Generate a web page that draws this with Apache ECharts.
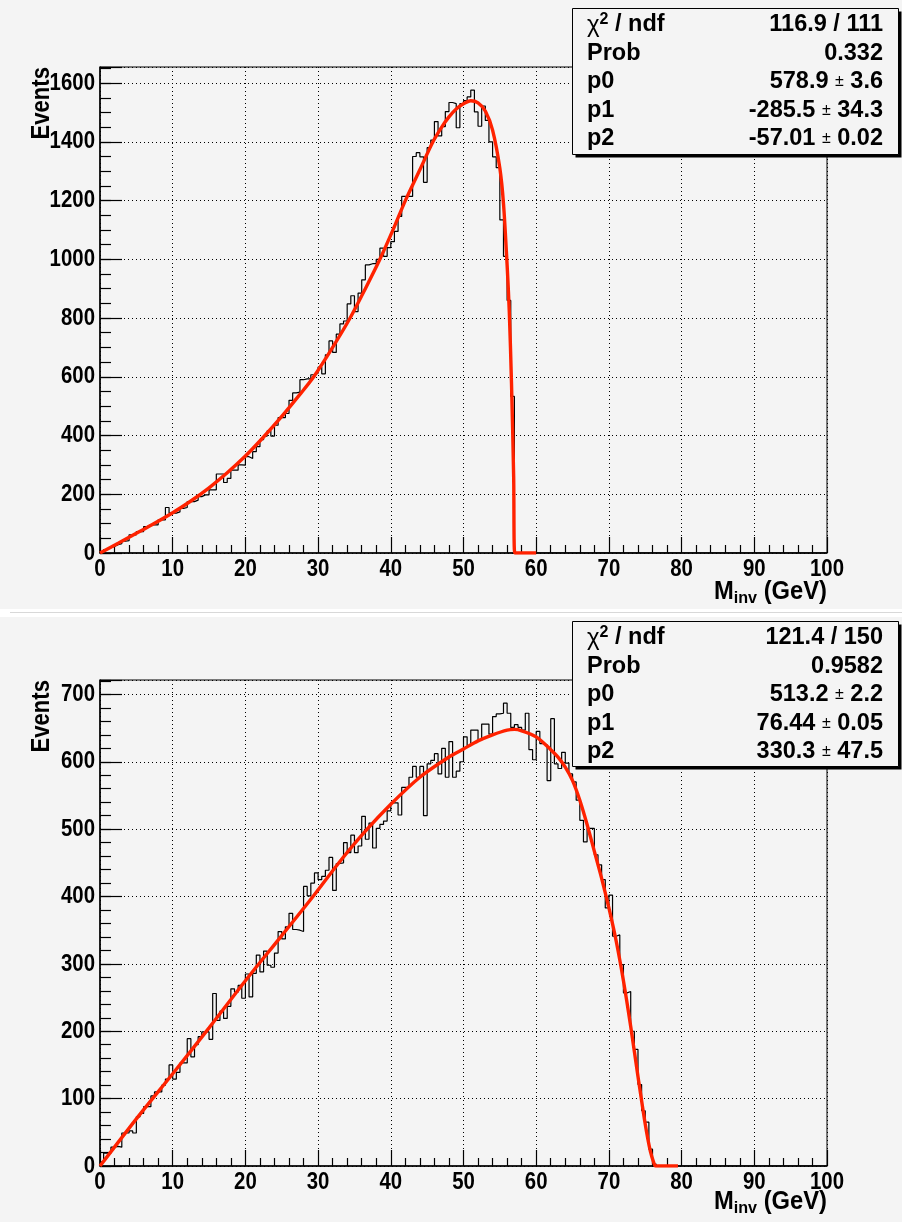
<!DOCTYPE html>
<html>
<head>
<meta charset="utf-8">
<script src="https://cdn.jsdelivr.net/npm/echarts@6/dist/echarts.min.js"></script>
<style>
  html, body { margin: 0; padding: 0; background: #f4f4f4; }
  #chart { width: 902px; height: 1222px; }
</style>
</head>
<body>
<div id="chart"></div>
<script>
// Histogram bin width (GeV); bins start at 0
const BIN = 0.5;

// Upper plot: events per 0.5 GeV bin, 0 .. 57 GeV (all later bins empty)
const topCounts = [
  4, 12, 18, 22, 28, 32, 40, 42, 62, 62,
  73, 73, 90, 96, 96, 96, 113, 113, 155, 136,
  136, 140, 152, 155, 175, 175, 180, 192, 198, 198,
  215, 215, 269, 269, 240, 254, 282, 282, 300, 299,
  328, 322, 345, 362, 386, 398, 416, 398, 435, 461,
  461, 475, 520, 545, 548, 590, 593, 593, 607, 612,
  633, 610, 675, 722, 683, 745, 780, 790, 848, 876,
  822, 885, 930, 981, 985, 985, 1000, 1038, 1010, 1040,
  1060, 1095, 1146, 1214, 1214, 1214, 1350, 1363, 1349, 1262,
  1380, 1406, 1469, 1420, 1452, 1503, 1534, 1530, 1448, 1530,
  1540, 1553, 1576, 1502, 1453, 1522, 1473, 1400, 1349, 1312,
  1134, 1010, 860, 533
];

// Lower plot: events per 0.5 GeV bin, 0 .. 76.5 GeV (all later bins empty)
const bottomCounts = [
  6, 19, 19, 28, 29, 28, 49, 49, 52, 49,
  73, 78, 88, 88, 104, 110, 110, 120, 129, 150,
  129, 139, 153, 153, 189, 162, 180, 192, 199, 199,
  188, 256, 216, 230, 219, 237, 263, 258, 268, 249,
  285, 251, 286, 313, 288, 319, 298, 295, 316, 348,
  337, 355, 375, 351, 350, 348, 415, 401, 420, 435,
  425, 430, 439, 458, 409, 449, 450, 480, 465, 491,
  465, 475, 519, 485, 509, 472, 501, 507, 512, 527,
  539, 539, 521, 562, 562, 577, 593, 577, 593, 520,
  597, 602, 612, 582, 620, 577, 630, 577, 586, 600,
  637, 624, 647, 647, 632, 656, 656, 641, 667, 671,
  672, 687, 672, 651, 655, 651, 647, 672, 618, 603,
  645, 627, 625, 572, 664, 597, 590, 614, 598, 582,
  570, 543, 513, 481, 501, 501, 462, 447, 425, 383,
  402, 341, 343, 299, 257, 259, 200, 173, 121, 82,
  65, 25, 3
];

// Fitted curves, sampled (GeV, events)
const topFitX = [0, 2.5, 5, 7.5, 10, 12.5, 15, 17.5, 20, 22.5, 25, 27.5, 29.4, 32, 34.4, 36.5, 38.5,
  40.3, 42, 44, 45.8, 47, 48, 49, 50, 51, 52, 53, 54, 55, 55.5, 56, 56.3, 56.6, 56.9, 57.05, 60];
const topFitY = [0, 33, 67, 101, 137, 177, 222, 273, 330, 395, 465, 540, 600, 700, 800, 900, 1000,
  1100, 1200, 1305, 1400, 1450, 1485, 1512, 1530, 1540, 1533, 1505, 1440, 1310, 1190, 980, 820, 580, 260, 0, 0];

const bottomFitX = [0, 5, 10, 15, 20, 25, 29.3, 33, 36.5, 40, 44, 48, 50, 52, 54, 56, 57, 58, 60, 62, 63,
  64, 65, 66, 67, 68, 69, 70, 71, 72, 73, 74, 75, 75.7, 76.2, 76.44, 79.5];
const bottomFitY = [0, 70, 137, 205, 275, 342, 400, 452, 497, 537, 577, 607, 619, 631, 640, 647, 648, 646, 637, 618, 607,
  592, 572, 543, 507, 467, 427, 383, 334, 275, 207, 133, 62, 22, 4, 0, 0];

// Tick labels
const xTickLabels = ['0', '10', '20', '30', '40', '50', '60', '70', '80', '90', '100'];
const topYTickLabels = ['0', '200', '400', '600', '800', '1000', '1200', '1400', '1600'];
const bottomYTickLabels = ['0', '100', '200', '300', '400', '500', '600', '700'];

// Fit statistics boxes
const statLabels = ['χ2 / ndf', 'Prob', 'p0', 'p1', 'p2'];
const topStatValues = ['116.9 / 111', '0.332', '578.9 ± 3.6', '-285.5 ± 34.3', '-57.01 ± 0.02'];
const bottomStatValues = ['121.4 / 150', '0.9582', '513.2 ± 2.2', '76.44 ± 0.05', '330.3 ± 47.5'];

const yTitle = 'Events';
const xTitleMain = 'M';
const xTitleSub = 'inv';
const xTitleUnit = ' (GeV)';

// ---------------------------------------------------------------------------
const FONT = "'Liberation Sans',Arial,Helvetica,sans-serif";
const RED = '#ff2200';
const BG = '#f4f4f4';
const LABEL_SCALE = 0.85;   // narrow bold look of the axis lettering

const panels = [
  { top: 67, height: 486, counts: topCounts, fx: topFitX, fy: topFitY, major: 200, minor: 50,
    yLabels: topYTickLabels, stats: topStatValues, boxTop: 8, boxH: 146, titleTop: 67, xTitleY: 592 },
  { top: 680, height: 486, counts: bottomCounts, fx: bottomFitX, fy: bottomFitY, major: 100, minor: 20,
    yLabels: bottomYTickLabels, stats: bottomStatValues, boxTop: 621, boxH: 145, titleTop: 680, xTitleY: 1202 }
];
const GRID_LEFT = 100, GRID_W = 727;

function histPoints(counts) {
  const pts = counts.map((v, i) => [i * BIN, v]);
  pts.push([counts.length * BIN, 0]);
  pts.push([100, 0]);
  return pts;
}

const grid = [], xAxis = [], yAxis = [], series = [];

panels.forEach((p, k) => {
  const yMax = 1.05 * Math.max(...p.counts);
  grid.push({ left: GRID_LEFT, top: p.top, width: GRID_W, height: p.height, show: true,
    borderColor: '#000', borderWidth: 1, backgroundColor: 'transparent' });

  xAxis.push({
    gridIndex: k, type: 'value', min: 0, max: 100, interval: 10,
    axisLine: { show: true, onZero: false, lineStyle: { color: '#000', width: 1.5 } },
    axisTick: { show: true, inside: true, length: 16, lineStyle: { color: '#000', width: 1.2 } },
    minorTick: { show: true, splitNumber: 5, length: 8, lineStyle: { color: '#000', width: 1.2 } },
    splitLine: { show: true, lineStyle: { color: '#000', width: 1, type: [1, 3] } },
    axisLabel: { show: false }
  });

  // major ticks and grid lines
  yAxis.push({
    gridIndex: k, type: 'value', min: 0, max: yMax, interval: p.major, position: 'left',
    axisLine: { show: true, onZero: false, lineStyle: { color: '#000', width: 1.5 } },
    axisTick: { show: true, inside: true, length: 22, lineStyle: { color: '#000', width: 1.2 } },
    splitLine: { show: true, lineStyle: { color: '#000', width: 1, type: [1, 3] } },
    axisLabel: { show: false }
  });
  // minor ticks
  yAxis.push({
    gridIndex: k, type: 'value', min: 0, max: yMax, interval: p.minor, position: 'left',
    axisLine: { show: false }, axisLabel: { show: false }, splitLine: { show: false },
    axisTick: { show: true, inside: true, length: 11, lineStyle: { color: '#000', width: 1.2 } }
  });

  series.push({
    type: 'line', xAxisIndex: k, yAxisIndex: 2 * k, step: 'end', showSymbol: false,
    data: histPoints(p.counts), lineStyle: { color: '#000', width: 1.2 }, z: 3, animation: false
  });
  series.push({
    type: 'line', xAxisIndex: k, yAxisIndex: 2 * k, smooth: 0.3, showSymbol: false,
    data: p.fx.map((x, i) => [x, p.fy[i]]), lineStyle: { color: RED, width: 3.4 }, z: 4, animation: false
  });
});

const chart = echarts.init(document.getElementById('chart'), null, { renderer: 'canvas' });
chart.setOption({ animation: false, backgroundColor: BG, grid, xAxis, yAxis, series });

// Lettering: tick labels placed through the axes' own scales, titles, statistics boxes
const graphic = [];
graphic.push({ type: 'rect', shape: { x: 0, y: 609, width: 902, height: 8 }, style: { fill: '#ffffff' }, silent: true });
graphic.push({ type: 'line', shape: { x1: 10, y1: 612.5, x2: 902, y2: 612.5 }, style: { stroke: '#d8d8d8', lineWidth: 1 }, silent: true });

panels.forEach((p, k) => {
  const finder = { xAxisIndex: k, yAxisIndex: 2 * k };
  xTickLabels.forEach(lab => {
    const [px, py] = chart.convertToPixel(finder, [Number(lab), 0]);
    graphic.push({ type: 'text', x: px, y: py + 4, scaleX: LABEL_SCALE, silent: true,
      style: { text: lab, fill: '#000', font: `bold 24px ${FONT}`, align: 'center', verticalAlign: 'top' } });
  });
  p.yLabels.forEach(lab => {
    const [px, py] = chart.convertToPixel(finder, [0, Number(lab)]);
    graphic.push({ type: 'text', x: px - 5, y: py, scaleX: LABEL_SCALE, silent: true,
      style: { text: lab, fill: '#000', font: `bold 24px ${FONT}`, align: 'right', verticalAlign: 'middle' } });
  });

  // y-axis title, rotated, aligned to the top of the axis
  graphic.push({ type: 'text', x: 42, y: p.titleTop, rotation: Math.PI / 2, scaleX: LABEL_SCALE, silent: true,
    style: { text: yTitle, fill: '#000', font: `bold 26px ${FONT}`, align: 'right', verticalAlign: 'middle' } });

  // x-axis title with subscript, right-aligned at the axis end
  graphic.push({ type: 'text', x: GRID_LEFT + GRID_W, y: p.xTitleY, scaleX: 0.95, silent: true,
    style: {
      text: `{m|${xTitleMain}}{s|${xTitleSub}}{m|${xTitleUnit}}`, align: 'right', verticalAlign: 'middle',
      rich: {
        m: { fontFamily: FONT, fontWeight: 'bold', fontSize: 25, lineHeight: 30, fill: '#000' },
        s: { fontFamily: FONT, fontWeight: 'bold', fontSize: 17, lineHeight: 12, verticalAlign: 'bottom', fill: '#000' }
      }
    } });

  // statistics box with drop shadow
  const bx = 572.5, bw = 326, by = p.boxTop + 0.5;
  graphic.push({ type: 'rect', shape: { x: bx + 3, y: by + 3, width: bw, height: p.boxH }, style: { fill: '#000' }, silent: true, z: 10 });
  graphic.push({ type: 'rect', shape: { x: bx, y: by, width: bw, height: p.boxH }, style: { fill: BG, stroke: '#000', lineWidth: 1 }, silent: true, z: 11 });
  const rowOff = [17, 46, 74, 102.5, 130.5];
  statLabels.forEach((lab, i) => {
    const y = p.boxTop + rowOff[i];
    const labText = i === 0 ? '{c|χ}{u|2}{b| / ndf}' : `{b|${lab}}`;
    graphic.push({ type: 'text', x: 587, y, z: 12, silent: true,
      style: { text: labText, align: 'left', verticalAlign: 'middle',
        rich: {
          b: { fontFamily: FONT, fontWeight: 'bold', fontSize: 23.5, lineHeight: 26, fill: '#000' },
          c: { fontFamily: FONT, fontWeight: 'normal', fontSize: 24, lineHeight: 26, fill: '#000' },
          u: { fontFamily: FONT, fontWeight: 'bold', fontSize: 16, lineHeight: 20, verticalAlign: 'top', fill: '#000' }
        } } });
    const val = p.stats[i];
    const parts = val.split('±');
    const valText = parts.length === 2 ? `{b|${parts[0]}}{p|±}{b|${parts[1]}}` : `{b|${val}}`;
    graphic.push({ type: 'text', x: 883, y, z: 12, silent: true,
      style: { text: valText, align: 'right', verticalAlign: 'middle',
        rich: {
          b: { fontFamily: FONT, fontWeight: 'bold', fontSize: 23.5, lineHeight: 26, fill: '#000' },
          p: { fontFamily: FONT, fontWeight: 'normal', fontSize: 16, lineHeight: 26, fill: '#000' }
        } } });
  });
});

chart.setOption({ graphic });
</script>
</body>
</html>
